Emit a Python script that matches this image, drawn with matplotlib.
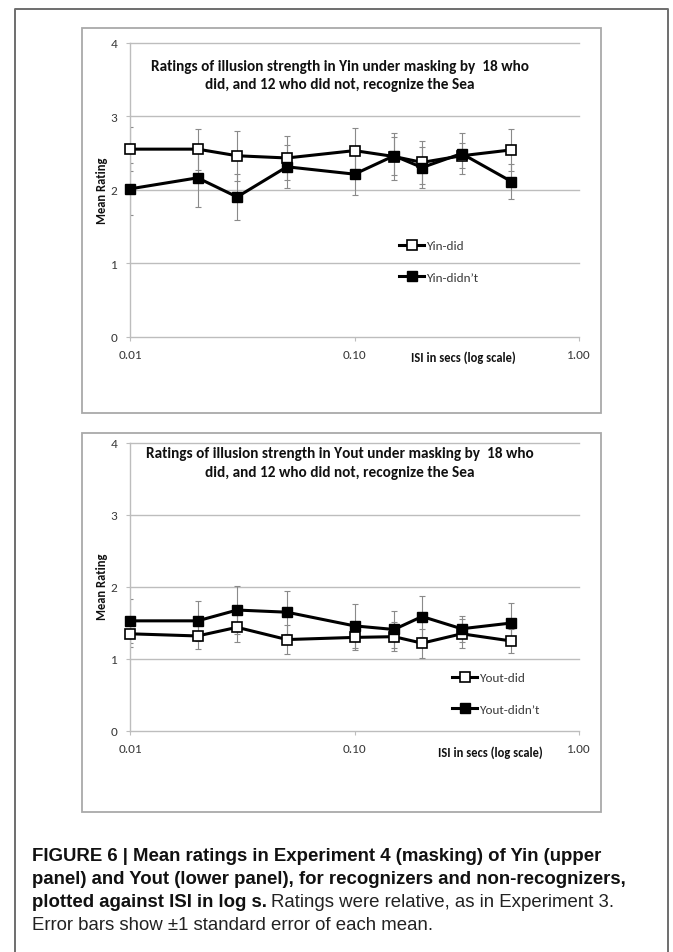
import matplotlib
matplotlib.use("Agg")
import matplotlib.pyplot as plt
from matplotlib import font_manager
from matplotlib.font_manager import FontProperties
from matplotlib.lines import Line2D
from matplotlib.patches import Rectangle

# ISI values (seconds) and mean ratings with standard errors
isi = [0.01, 0.02, 0.03, 0.05, 0.10, 0.15, 0.20, 0.30, 0.50]

yin_did = [2.55, 2.55, 2.46, 2.43, 2.53, 2.45, 2.37, 2.46, 2.54]
yin_did_se = [0.30, 0.28, 0.34, 0.30, 0.31, 0.32, 0.29, 0.17, 0.29]
yin_didnt = [2.01, 2.16, 1.90, 2.31, 2.21, 2.46, 2.30, 2.49, 2.11]
yin_didnt_se = [0.35, 0.39, 0.31, 0.29, 0.29, 0.26, 0.28, 0.28, 0.24]

yout_did = [1.35, 1.32, 1.44, 1.27, 1.30, 1.31, 1.22, 1.35, 1.25]
yout_did_se = [0.19, 0.18, 0.20, 0.20, 0.18, 0.20, 0.20, 0.20, 0.17]
yout_didnt = [1.53, 1.53, 1.68, 1.65, 1.46, 1.41, 1.59, 1.42, 1.50]
yout_didnt_se = [0.31, 0.28, 0.33, 0.30, 0.31, 0.26, 0.28, 0.18, 0.28]

xtick_vals = [0.01, 0.1, 1.0]
xtick_labels = ["0.01", "0.10", "1.00"]
ytick_vals = [0, 1, 2, 3, 4]

title_yin = "Ratings of illusion strength in Yin under masking by  18 who\ndid, and 12 who did not, recognize the Sea"
title_yout = "Ratings of illusion strength in Yout under masking by  18 who\ndid, and 12 who did not, recognize the Sea"

cap_lines = [
    ("FIGURE 6 | Mean ratings in Experiment 4 (masking) of Yin (upper", ""),
    ("panel) and Yout (lower panel), for recognizers and non-recognizers,", ""),
    ("plotted against ISI in log s.", "Ratings were relative, as in Experiment 3."),
    ("", "Error bars show \u00b11 standard error of each mean."),
]

names = {f.name for f in font_manager.fontManager.ttflist}
chart_font = "Carlito" if "Carlito" in names else "Lato"
cap_reg = FontProperties(family="Liberation Sans")
cap_bold = FontProperties(family="Liberation Sans", weight="bold")

W, H = 673, 953
fig = plt.figure(figsize=(W / 100, H / 100), dpi=100)


# pixel -> figure fraction helpers
def fx(px):
    return px / W


def fy(py):
    return 1 - py / H


GRID = "#bdbdbd"
TXT = "#3a3a3a"

# outer frame (open at the bottom)
fig.add_artist(Line2D([fx(15), fx(15), fx(668), fx(668)], [0, fy(10), fy(10), 0],
                      transform=fig.transFigure, color="#6e6e6e", lw=1.4))


def panel(box, area, did, did_se, didnt, didnt_se, labels, title, title_y,
          xlab_x, xlab_y, ylab_y, leg_xy):
    bx0, by0, bx1, by1 = box
    fig.add_artist(Rectangle((fx(bx0), fy(by1)), fx(bx1) - fx(bx0), (by1 - by0) / H,
                             transform=fig.transFigure, fill=False, ec="#a9a9a9", lw=1.3))
    ax0, ay0, ax1, ay1 = area
    ax = fig.add_axes([fx(ax0), fy(ay1), fx(ax1) - fx(ax0), (ay1 - ay0) / H])
    ax.set_xscale("log")
    ax.set_xlim(0.01, 1.0)
    ax.set_ylim(0, 4)
    for s in ["top", "right"]:
        ax.spines[s].set_visible(False)
    for s in ["left", "bottom"]:
        ax.spines[s].set_color(GRID)
        ax.spines[s].set_linewidth(1.0)
    for v in ytick_vals[1:]:
        ax.axhline(v, color=GRID, lw=1.0, zorder=0, clip_on=False)
    ax.set_xticks(xtick_vals)
    ax.set_xticklabels(xtick_labels)
    ax.xaxis.set_minor_locator(matplotlib.ticker.NullLocator())
    ax.set_yticks(ytick_vals)
    ax.tick_params(axis="both", colors=GRID, length=3, width=0.8, labelcolor=TXT,
                   labelsize=9.5)
    ax.tick_params(axis="x", pad=6)
    ax.tick_params(axis="y", pad=6)
    for t in ax.get_xticklabels() + ax.get_yticklabels():
        t.set_fontfamily(chart_font)

    ax.errorbar(isi, did, yerr=did_se, fmt="none", ecolor="#8a8a8a", elinewidth=0.8,
                capsize=2.5, capthick=0.8, zorder=2)
    ax.errorbar(isi, didnt, yerr=didnt_se, fmt="none", ecolor="#8a8a8a", elinewidth=0.8,
                capsize=2.5, capthick=0.8, zorder=2)
    h1, = ax.plot(isi, did, color="black", lw=2.2, marker="s", ms=7.5, mfc="white",
                  mec="black", mew=1.2, zorder=3, clip_on=False)
    h2, = ax.plot(isi, didnt, color="black", lw=2.2, marker="s", ms=7.5, mfc="black",
                  mec="black", zorder=4, clip_on=False)

    ax.legend([h1, h2], labels, loc="upper left", bbox_to_anchor=leg_xy,
              bbox_transform=fig.transFigure, frameon=False, handlelength=1.9,
              handletextpad=0.15, labelspacing=1.56, borderpad=0, borderaxespad=0,
              prop={"family": chart_font, "size": 9.5}, labelcolor=TXT)

    fig.text(fx(340), fy(title_y), title, ha="center", va="top", fontsize=11,
             fontweight="bold", family=chart_font, color="#111111", linespacing=1.4)
    fig.text(fx(xlab_x), fy(xlab_y), "ISI in secs (log scale)", ha="center", va="center",
             fontsize=9, fontweight="bold", family=chart_font, color="#111111")
    fig.text(fx(102), fy(ylab_y), "Mean Rating", ha="center", va="center", rotation=90,
             fontsize=9, fontweight="bold", family=chart_font, color="#111111")
    return ax


panel((82, 29, 601, 414), (130, 43.5, 579, 337.7), yin_did, yin_did_se, yin_didnt,
      yin_didnt_se, ["Yin-did", "Yin-didn\u2019t"], title_yin, 60, 463, 358, 191,
      (fx(399), fy(241)))
panel((82, 434, 601, 812.5), (130, 444, 579, 732), yout_did, yout_did_se, yout_didnt,
      yout_didnt_se, ["Yout-did", "Yout-didn\u2019t"], title_yout, 447.5, 490, 753, 587,
      (fx(452), fy(673)))

# caption: size the first line to its column width
r = fig.canvas.get_renderer()
probe = fig.text(0, 0, cap_lines[0][0], fontproperties=cap_bold, fontsize=10)
pw = probe.get_window_extent(renderer=r).width
probe.remove()
cap_size = min(10 * 573 / pw, 13.6)
cap_bold.set_size(cap_size)
cap_reg.set_size(cap_size)

baselines = [861, 884, 907, 930]
for (bold_part, reg_part), yb in zip(cap_lines, baselines):
    x = 32
    if bold_part:
        t = fig.text(fx(x), fy(yb), bold_part, fontproperties=cap_bold, va="baseline",
                     color="#111111")
        x = t.get_window_extent(renderer=r).x1 + 4
    if reg_part:
        fig.text(fx(x), fy(yb), reg_part, fontproperties=cap_reg, va="baseline",
                 color="#222222")

fig.savefig("out.png", dpi=100)
